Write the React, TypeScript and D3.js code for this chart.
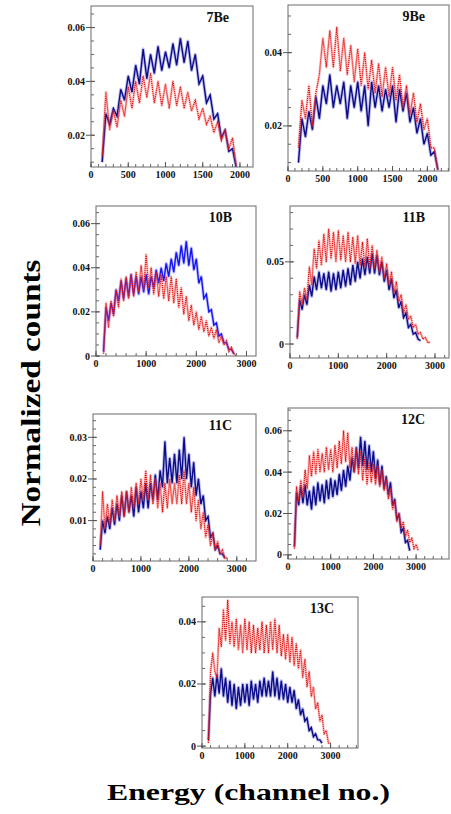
import React, { useEffect, useRef } from 'react';
import * as d3 from 'd3';

// every series is sampled every 50 channels, starting at channel 150
const START = 150;
const STEP = 50;

const panelNames = ['7Be', '9Be', '10B', '11B', '11C', '12C', '13C'];

const be7Blue = [0.010, 0.028, 0.024, 0.030, 0.027, 0.037, 0.033, 0.042, 0.036, 0.046, 0.039, 0.052, 0.041, 0.050, 0.043, 0.053, 0.044, 0.051, 0.045, 0.054, 0.046, 0.056, 0.047, 0.055, 0.044, 0.050, 0.039, 0.042, 0.032, 0.035, 0.026, 0.028, 0.019, 0.022, 0.014, 0.015, 0.008];
const be7Red = [0.012, 0.036, 0.022, 0.029, 0.023, 0.033, 0.027, 0.038, 0.030, 0.040, 0.032, 0.042, 0.034, 0.043, 0.032, 0.040, 0.031, 0.039, 0.030, 0.040, 0.031, 0.038, 0.030, 0.036, 0.029, 0.033, 0.026, 0.030, 0.024, 0.027, 0.021, 0.025, 0.018, 0.022, 0.015, 0.019, 0.009];

const be9Blue = [0.010, 0.022, 0.017, 0.024, 0.019, 0.028, 0.022, 0.031, 0.026, 0.034, 0.025, 0.031, 0.026, 0.032, 0.022, 0.031, 0.025, 0.032, 0.024, 0.031, 0.020, 0.032, 0.025, 0.031, 0.024, 0.030, 0.025, 0.031, 0.021, 0.030, 0.024, 0.029, 0.021, 0.025, 0.018, 0.022, 0.015, 0.018, 0.012, 0.013, 0.008];
const be9Red = [0.014, 0.027, 0.022, 0.031, 0.020, 0.029, 0.034, 0.044, 0.036, 0.046, 0.036, 0.047, 0.035, 0.044, 0.034, 0.042, 0.032, 0.041, 0.031, 0.040, 0.030, 0.038, 0.029, 0.037, 0.028, 0.036, 0.028, 0.036, 0.027, 0.034, 0.025, 0.031, 0.023, 0.029, 0.021, 0.026, 0.019, 0.022, 0.014, 0.014, 0.008];

const b10Blue = [0.002, 0.022, 0.016, 0.024, 0.019, 0.030, 0.025, 0.034, 0.026, 0.035, 0.027, 0.037, 0.028, 0.036, 0.028, 0.036, 0.029, 0.037, 0.028, 0.036, 0.031, 0.039, 0.033, 0.040, 0.034, 0.042, 0.036, 0.044, 0.038, 0.047, 0.041, 0.050, 0.042, 0.052, 0.041, 0.049, 0.039, 0.044, 0.033, 0.036, 0.026, 0.028, 0.020, 0.021, 0.014, 0.015, 0.009, 0.010, 0.006, 0.006, 0.003, 0.003, 0.001];
const b10Red = [0.001, 0.024, 0.013, 0.025, 0.018, 0.030, 0.022, 0.035, 0.025, 0.036, 0.026, 0.037, 0.027, 0.038, 0.029, 0.041, 0.030, 0.046, 0.031, 0.040, 0.028, 0.038, 0.027, 0.037, 0.026, 0.036, 0.025, 0.036, 0.024, 0.035, 0.022, 0.031, 0.019, 0.027, 0.016, 0.023, 0.014, 0.020, 0.012, 0.018, 0.011, 0.016, 0.009, 0.013, 0.008, 0.012, 0.006, 0.009, 0.005, 0.007, 0.002, 0.004, 0.001, 0.000];

const b11Blue = [0.004, 0.027, 0.021, 0.030, 0.024, 0.036, 0.029, 0.041, 0.033, 0.044, 0.034, 0.043, 0.033, 0.044, 0.032, 0.043, 0.033, 0.044, 0.034, 0.045, 0.035, 0.046, 0.036, 0.048, 0.038, 0.050, 0.040, 0.052, 0.042, 0.053, 0.043, 0.055, 0.043, 0.054, 0.042, 0.050, 0.038, 0.045, 0.033, 0.040, 0.028, 0.033, 0.022, 0.026, 0.016, 0.019, 0.010, 0.012, 0.006, 0.007, 0.003, 0.002];
const b11Red = [0.003, 0.032, 0.024, 0.034, 0.027, 0.047, 0.036, 0.058, 0.046, 0.063, 0.048, 0.067, 0.050, 0.070, 0.052, 0.068, 0.050, 0.069, 0.051, 0.066, 0.050, 0.068, 0.050, 0.065, 0.049, 0.066, 0.048, 0.062, 0.047, 0.064, 0.046, 0.060, 0.046, 0.057, 0.044, 0.053, 0.040, 0.049, 0.036, 0.044, 0.031, 0.038, 0.026, 0.030, 0.019, 0.024, 0.015, 0.017, 0.010, 0.012, 0.006, 0.007, 0.003, 0.004, 0.001, 0.001];

const c11Blue = [0.003, 0.010, 0.007, 0.011, 0.008, 0.013, 0.009, 0.014, 0.010, 0.016, 0.011, 0.017, 0.012, 0.016, 0.011, 0.018, 0.012, 0.017, 0.013, 0.019, 0.013, 0.019, 0.015, 0.021, 0.015, 0.022, 0.018, 0.029, 0.019, 0.025, 0.019, 0.026, 0.019, 0.027, 0.020, 0.030, 0.020, 0.026, 0.018, 0.024, 0.016, 0.020, 0.014, 0.016, 0.010, 0.011, 0.006, 0.007, 0.003, 0.004, 0.002, 0.002, 0.001];
const c11Red = [0.004, 0.017, 0.008, 0.014, 0.009, 0.015, 0.010, 0.016, 0.011, 0.017, 0.011, 0.017, 0.012, 0.018, 0.013, 0.019, 0.014, 0.020, 0.015, 0.022, 0.015, 0.021, 0.014, 0.020, 0.013, 0.019, 0.012, 0.019, 0.013, 0.020, 0.014, 0.019, 0.014, 0.021, 0.014, 0.022, 0.014, 0.019, 0.012, 0.018, 0.010, 0.015, 0.008, 0.012, 0.006, 0.009, 0.004, 0.007, 0.003, 0.005, 0.002, 0.003, 0.001, 0.001];

const c12Blue = [0.004, 0.030, 0.024, 0.033, 0.025, 0.034, 0.024, 0.031, 0.022, 0.033, 0.024, 0.035, 0.026, 0.034, 0.025, 0.036, 0.027, 0.037, 0.028, 0.036, 0.029, 0.039, 0.031, 0.041, 0.033, 0.043, 0.036, 0.047, 0.040, 0.052, 0.042, 0.057, 0.043, 0.055, 0.041, 0.053, 0.040, 0.050, 0.037, 0.046, 0.034, 0.043, 0.032, 0.038, 0.029, 0.035, 0.024, 0.027, 0.017, 0.020, 0.011, 0.013, 0.006, 0.007, 0.002];
const c12Red = [0.003, 0.033, 0.026, 0.036, 0.028, 0.041, 0.032, 0.048, 0.038, 0.050, 0.039, 0.051, 0.040, 0.049, 0.040, 0.052, 0.041, 0.051, 0.040, 0.053, 0.042, 0.055, 0.044, 0.060, 0.045, 0.059, 0.042, 0.052, 0.040, 0.051, 0.039, 0.050, 0.036, 0.047, 0.034, 0.045, 0.035, 0.044, 0.034, 0.043, 0.033, 0.041, 0.031, 0.037, 0.027, 0.032, 0.022, 0.026, 0.016, 0.020, 0.013, 0.016, 0.009, 0.012, 0.006, 0.008, 0.003, 0.005, 0.002];

const c13Blue = [0.002, 0.017, 0.022, 0.016, 0.023, 0.017, 0.025, 0.016, 0.022, 0.014, 0.021, 0.013, 0.020, 0.012, 0.019, 0.013, 0.020, 0.014, 0.020, 0.013, 0.021, 0.015, 0.020, 0.014, 0.021, 0.016, 0.022, 0.016, 0.021, 0.016, 0.024, 0.016, 0.022, 0.015, 0.021, 0.015, 0.020, 0.014, 0.019, 0.014, 0.018, 0.012, 0.015, 0.010, 0.012, 0.008, 0.009, 0.005, 0.006, 0.003, 0.004, 0.002, 0.002, 0.001];
const c13Red = [0.001, 0.024, 0.030, 0.024, 0.022, 0.038, 0.032, 0.044, 0.034, 0.047, 0.033, 0.040, 0.032, 0.041, 0.031, 0.039, 0.030, 0.041, 0.031, 0.040, 0.030, 0.039, 0.030, 0.038, 0.031, 0.040, 0.030, 0.039, 0.030, 0.040, 0.031, 0.041, 0.030, 0.039, 0.029, 0.036, 0.028, 0.036, 0.027, 0.035, 0.026, 0.033, 0.025, 0.031, 0.022, 0.028, 0.019, 0.024, 0.016, 0.019, 0.012, 0.014, 0.008, 0.010, 0.004, 0.005, 0.001, 0.001];

const blueSeries = [be7Blue, be9Blue, b10Blue, b11Blue, c11Blue, c12Blue, c13Blue];
const redSeries = [be7Red, be9Red, b10Red, b11Red, c11Red, c12Red, c13Red];

const xMaxes = [2175, 2310, 3190, 3290, 3400, 3770, 3640];
const yDomains = [[0.0082, 0.068], [0.0077, 0.053], [0, 0.068], [-0.0085, 0.084], [0.0003, 0.0356], [-0.002, 0.071], [-0.0006, 0.048]];
const yTickValues = [[0.02, 0.04, 0.06], [0.02, 0.04], [0, 0.02, 0.04, 0.06], [0, 0.05], [0.01, 0.02, 0.03], [0, 0.02, 0.04, 0.06], [0, 0.02, 0.04]];
const yMinorSteps = [0.005, 0.005, 0.005, 0.01, 0.002, 0.005, 0.005];
const xTickValues = [[0, 500, 1000, 1500, 2000], [0, 500, 1000, 1500, 2000], [0, 1000, 2000, 3000], [0, 1000, 2000, 3000], [0, 1000, 2000, 3000], [0, 1000, 2000, 3000], [0, 1000, 2000, 3000]];
const xMinorSteps = [100, 100, 200, 200, 200, 200, 200];

// frame boxes on the page: left, top, right, bottom
const boxes = [
  [91, 6, 253, 167],
  [288, 5, 449, 171],
  [96, 206, 256, 356],
  [290, 206, 449, 358],
  [93, 414, 256, 561],
  [288, 408, 449, 559],
  [202, 597, 358, 748],
];
const blueColors = ['#0c0c88', '#0c0c88', '#1515f0', '#0c0c88', '#0c0c88', '#0c0c88', '#0c0c88'];
const blueFringes = ['#5a5ad0', '#5a5ad0', '#6f6fff', '#5a5ad0', '#5a5ad0', '#5a5ad0', '#5a5ad0'];

const fmt = (d: number) => (d === 0 ? '0' : String(d));

const App = () => {
  const ref = useRef<SVGSVGElement>(null);

  useEffect(() => {
    const svg = d3.select(ref.current);
    svg.selectAll('*').remove();
    const font = '"Liberation Serif", "Times New Roman", serif';

    panelNames.forEach((name, p) => {
      const [left, top, right, bottom] = boxes[p];
      const x = d3.scaleLinear().domain([0, xMaxes[p]]).range([left, right]);
      const y = d3.scaleLinear().domain(yDomains[p]).range([bottom, top]);
      const g = svg.append('g');

      const clipId = `clip-${p}`;
      svg.append('clipPath').attr('id', clipId)
        .append('rect').attr('x', left).attr('y', top).attr('width', right - left).attr('height', bottom - top);

      const line = d3.line<number>()
        .x((_, i) => x(START + i * STEP))
        .y(d => y(d));

      const plot = g.append('g').attr('clip-path', `url(#${clipId})`);
      // soft halo standing in for the error bars of the original
      plot.append('path')
        .attr('d', line(blueSeries[p]))
        .attr('fill', 'none')
        .attr('stroke', blueFringes[p])
        .attr('stroke-width', 3.2)
        .attr('stroke-linejoin', 'round')
        .attr('stroke-opacity', 0.4);
      plot.append('path')
        .attr('d', line(blueSeries[p]))
        .attr('fill', 'none')
        .attr('stroke', blueColors[p])
        .attr('stroke-width', 1.4);
      plot.append('path')
        .attr('d', line(redSeries[p]))
        .attr('fill', 'none')
        .attr('stroke', '#ff5050')
        .attr('stroke-width', 2.6)
        .attr('stroke-linejoin', 'round')
        .attr('stroke-opacity', 0.3);
      plot.append('path')
        .attr('d', line(redSeries[p]))
        .attr('fill', 'none')
        .attr('stroke', '#e01010')
        .attr('stroke-width', 1.2)
        .attr('stroke-dasharray', '1.2,0.8');

      // frame
      g.append('rect')
        .attr('x', left).attr('y', top)
        .attr('width', right - left).attr('height', bottom - top)
        .attr('fill', 'none').attr('stroke', '#6a6a6a').attr('stroke-width', 1);

      const [y0, y1] = yDomains[p];
      const yMinor = d3.range(Math.ceil(y0 / yMinorSteps[p]) * yMinorSteps[p], y1, yMinorSteps[p]);
      g.append('g').selectAll('line').data(yMinor).join('line')
        .attr('x1', left).attr('x2', left + 3)
        .attr('y1', d => y(d)).attr('y2', d => y(d))
        .attr('stroke', '#666');
      g.append('g').selectAll('line').data(yTickValues[p]).join('line')
        .attr('x1', left - 5).attr('x2', left + 4)
        .attr('y1', d => y(d)).attr('y2', d => y(d))
        .attr('stroke', '#555');
      g.append('g').selectAll('text').data(yTickValues[p]).join('text')
        .attr('x', left - 6).attr('y', d => y(d)).attr('dy', '0.35em')
        .attr('text-anchor', 'end')
        .attr('font-family', font).attr('font-weight', 'bold').attr('font-size', 10)
        .attr('fill', '#111')
        .text(d => fmt(d));

      const xMinor = d3.range(0, xMaxes[p], xMinorSteps[p]);
      g.append('g').selectAll('line').data(xMinor).join('line')
        .attr('x1', d => x(d)).attr('x2', d => x(d))
        .attr('y1', bottom).attr('y2', bottom - 3)
        .attr('stroke', '#666');
      g.append('g').selectAll('line').data(xTickValues[p]).join('line')
        .attr('x1', d => x(d)).attr('x2', d => x(d))
        .attr('y1', bottom).attr('y2', bottom - 5)
        .attr('stroke', '#555');
      g.append('g').selectAll('text').data(xTickValues[p]).join('text')
        .attr('x', d => x(d)).attr('y', bottom + 11)
        .attr('text-anchor', 'middle')
        .attr('font-family', font).attr('font-weight', 'bold').attr('font-size', 10)
        .attr('fill', '#111')
        .text(d => fmt(d));

      g.append('text')
        .attr('x', right - 24).attr('y', top + 16)
        .attr('text-anchor', 'end')
        .attr('font-family', font).attr('font-weight', 'bold').attr('font-size', 14)
        .attr('fill', '#111')
        .text(name);
    });

    svg.append('text')
      .attr('transform', 'translate(40,393) rotate(-90)')
      .attr('text-anchor', 'middle')
      .attr('textLength', 267).attr('lengthAdjust', 'spacingAndGlyphs')
      .attr('font-family', font).attr('font-weight', 'bold').attr('font-size', 27)
      .attr('fill', '#000')
      .text('Normalized counts');

    svg.append('text')
      .attr('x', 107).attr('y', 800)
      .attr('textLength', 283).attr('lengthAdjust', 'spacingAndGlyphs')
      .attr('font-family', font).attr('font-weight', 'bold').attr('font-size', 24)
      .attr('fill', '#000')
      .text('Energy (channel no.)');
  }, []);

  return (
    <svg ref={ref} width={451} height={814} style={{ position: 'absolute', left: 0, top: 0, background: '#fff' }} />
  );
};

export default App;
